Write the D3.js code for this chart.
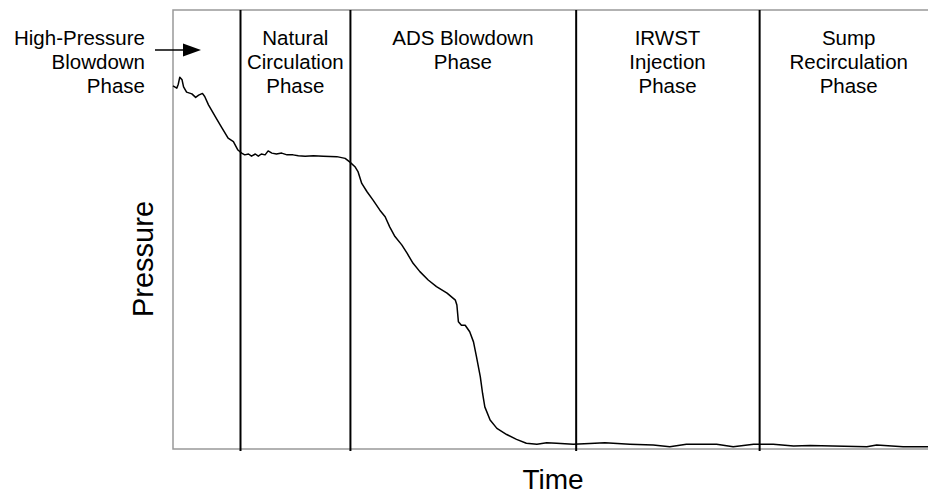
<!DOCTYPE html>
<html>
<head>
<meta charset="utf-8">
<script src="https://cdn.jsdelivr.net/npm/d3@7"></script>
<style>
  html, body { margin: 0; background: #fff; overflow: hidden; }
  svg { display: block; }
  text { font-family: "Liberation Sans", Arial, sans-serif; fill: #000; }
</style>
</head>
<body>
<div id="chart"></div>
<script>
// time (% of window) and pressure (% of scale)
var time = [0, 0.5, 0.7, 0.9, 1.2, 1.4, 1.8, 2.5, 3.0, 3.4, 3.9, 4.2, 4.7, 5.6, 6.5, 7.3, 8.0, 8.6, 9.1, 9.5,
  10.0, 10.4, 10.9, 11.3, 11.7, 12.2, 12.6, 13.1, 13.7, 14.4, 15.1, 15.9, 16.6, 17.5, 18.6, 19.9, 21.7, 22.8,
  23.4, 24.1, 24.5, 25.0, 25.7, 26.5, 27.4, 28.1, 28.7, 29.4, 30.3, 31.0, 31.8, 32.7, 33.8, 34.9, 36.3, 37.4,
  37.6, 37.8, 38.2, 38.7, 39.3, 39.8, 40.2, 40.7, 41.0, 41.3, 42.0, 42.9, 44.2, 45.5, 46.8, 48.2, 49.5, 50.8,
  53.0, 55.2, 57.2, 60.5, 63.6, 65.8, 68.0, 72.0, 74.2, 76.9, 79.5, 82.2, 84.4, 91.9, 93.2, 96.7, 100];
var pressure = [82.7, 82.2, 83.1, 84.7, 84.1, 82.5, 81.3, 80.9, 80.1, 80.6, 81.0, 80.3, 78.4, 75.7, 73.1, 70.8, 70.0, 68.1, 67.4, 67.0,
  67.2, 66.7, 67.2, 66.7, 67.2, 67.0, 67.9, 67.4, 67.2, 67.4, 67.0, 67.0, 66.8, 66.7, 66.8, 66.7, 66.6, 66.2,
  65.4, 64.3, 63.2, 60.5, 58.6, 56.7, 54.4, 52.9, 50.6, 48.4, 46.5, 44.6, 42.3, 40.4, 38.5, 37.0, 35.5, 33.9,
  32.8, 29.0, 28.2, 28.2, 26.7, 24.4, 21.0, 16.5, 12.7, 9.6, 6.6, 4.7, 3.3, 2.2, 1.3, 1.1, 1.4, 1.3,
  1.1, 1.25, 1.4, 1.1, 0.9, 0.5, 1.1, 1.1, 0.5, 1.1, 1.1, 0.7, 0.8, 0.5, 0.9, 0.5, 0.5];

var phaseBounds = [8.94, 23.5, 53.4, 77.7];
var phaseNames = [
  ["Natural", "Circulation", "Phase"],
  ["ADS Blowdown", "Phase"],
  ["IRWST", "Injection", "Phase"],
  ["Sump", "Recirculation", "Phase"]
];
var phaseCenters = [16.2, 38.4, 65.5, 89.5];
var firstPhase = ["High-Pressure", "Blowdown", "Phase"];

var width = 928, height = 497;
var plotL = 173, plotR = 928, plotT = 10, plotB = 449;

var x = d3.scaleLinear().domain([0, 100]).range([plotL, plotR]);
var y = d3.scaleLinear().domain([0, 100]).range([plotB, plotT]);

var svg = d3.select("#chart").append("svg")
  .attr("width", width).attr("height", height);

// frame (open on the right)
svg.append("path")
  .attr("d", `M${plotR},${plotT}H${plotL}V${plotB}H${plotR}`)
  .attr("fill", "none")
  .attr("stroke", "#999")
  .attr("stroke-width", 1.5);

// phase dividers
svg.selectAll("line.phase")
  .data(phaseBounds).enter()
  .append("line")
  .attr("class", "phase")
  .attr("x1", d => x(d)).attr("x2", d => x(d))
  .attr("y1", plotT).attr("y2", plotB + 2)
  .attr("stroke", "#000")
  .attr("stroke-width", 2);

// pressure curve
var data = time.map((t, i) => ({t: t, p: pressure[i]}));
svg.append("path")
  .datum(data)
  .attr("fill", "none")
  .attr("stroke", "#000")
  .attr("stroke-width", 1.5)
  .attr("stroke-linejoin", "round")
  .attr("d", d3.line().x(d => x(d.t)).y(d => y(d.p)));

// phase labels
var lineH = 24, fs = 20.5;
phaseNames.forEach((lines, i) => {
  var t = svg.append("text")
    .attr("text-anchor", "middle")
    .attr("font-size", fs + "px");
  lines.forEach((s, j) => {
    t.append("tspan")
      .attr("x", x(phaseCenters[i]))
      .attr("y", 45 + j * lineH)
      .text(s);
  });
});

var hp = svg.append("text")
  .attr("text-anchor", "end")
  .attr("font-size", fs + "px");
firstPhase.forEach((s, j) => {
  hp.append("tspan").attr("x", 145).attr("y", 45 + j * lineH).text(s);
});

// arrow
svg.append("line")
  .attr("x1", 155).attr("x2", 186)
  .attr("y1", 50).attr("y2", 50)
  .attr("stroke", "#000").attr("stroke-width", 1.5);
svg.append("path")
  .attr("d", "M183,43.5L201,50L183,56.5Z")
  .attr("fill", "#000");

// axis titles
svg.append("text")
  .attr("text-anchor", "middle")
  .attr("font-size", "28px")
  .attr("x", 553).attr("y", 489)
  .text("Time");

svg.append("text")
  .attr("text-anchor", "middle")
  .attr("font-size", "29px")
  .attr("transform", "translate(153,259) rotate(-90)")
  .text("Pressure");
</script>
</body>
</html>
